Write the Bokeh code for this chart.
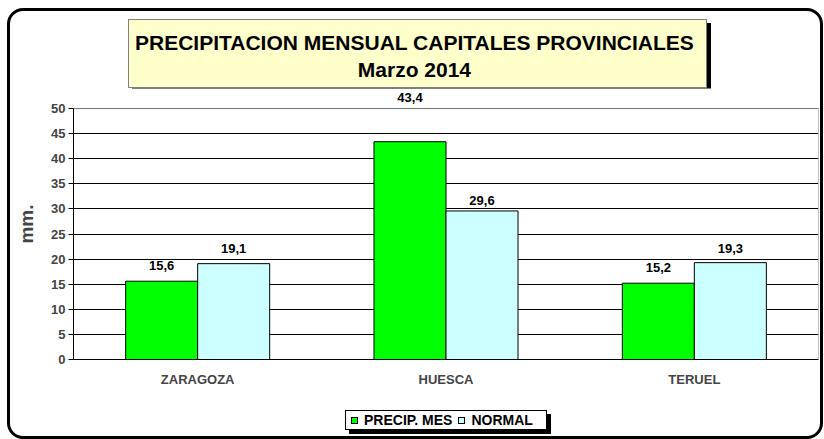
from bokeh.plotting import figure
from bokeh.models import (ColumnDataSource, FactorRange, LabelSet, Range1d, FixedTicker,
                          Div, Column)
from bokeh.transform import dodge
from bokeh.core.properties import value
from bokeh.embed import file_html
from bokeh.resources import INLINE

cities = ["ZARAGOZA", "HUESCA", "TERUEL"]
precip_mes = [15.6, 43.4, 15.2]
normal = [19.1, 29.6, 19.3]
series_names = ["PRECIP. MES", "NORMAL"]
series_colors = ["#00FF00", "#CCFFFF"]
title_lines = ["PRECIPITACION MENSUAL CAPITALES PROVINCIALES", "Marzo 2014"]
y_label = "mm."
y_ticks = [0, 5, 10, 15, 20, 25, 30, 35, 40, 45, 50]
y_max = 50

FONT = "Liberation Sans"

def fmt(v):
    return f"{v:.1f}".replace(".", ",")

# label lift above bar tops in px (styling only, mirrors the reference placement)
lift_precip = [11, 40, 11]
lift_normal = [11, 6, 10]

src = ColumnDataSource(dict(
    city=cities, precip=precip_mes, normal=normal,
    precip_lbl=[fmt(v) for v in precip_mes],
    normal_lbl=[fmt(v) for v in normal],
    lift_p=lift_precip, lift_n=lift_normal,
))

# the frame reaches a little above the 50 line so the top value label can sit there
p = figure(x_range=FactorRange(factors=cities, range_padding=0),
           y_range=Range1d(0, 54), width=810, height=304,
           output_backend="svg", toolbar_location=None,
           min_border_left=63, min_border_right=2, min_border_top=0,
           min_border_bottom=33)
p.title.visible = False

p.outline_line_color = None
p.xgrid.grid_line_color = None
p.ygrid.grid_line_color = "#000000"
p.ygrid.grid_line_width = 1
p.ygrid.ticker = FixedTicker(ticks=y_ticks)

# plot-area border (grey) spanning all categories from 0 to the top tick
p.quad(left=0, right=len(cities), bottom=0, top=y_max, fill_color=None,
       line_color="#808080", line_width=1)

BW = 0.29
g = p.vbar(x=dodge("city", -BW / 2, range=p.x_range), top="precip", width=BW,
           source=src, fill_color=series_colors[0], line_color="black", line_width=1)
c = p.vbar(x=dodge("city", BW / 2, range=p.x_range), top="normal", width=BW,
           source=src, fill_color=series_colors[1], line_color="black", line_width=1)

for xoff, col, lbl, lift in [(-BW / 2, "precip", "precip_lbl", "lift_p"),
                             (BW / 2, "normal", "normal_lbl", "lift_n")]:
    ls = LabelSet(x=dodge("city", xoff, range=p.x_range), y=col, text=lbl, source=src,
                  y_offset=lift, text_align="center", text_baseline="bottom",
                  text_font=value(FONT), text_font_style="bold",
                  text_font_size="13px", text_color="black")
    p.add_layout(ls)

# axes
p.yaxis.ticker = FixedTicker(ticks=y_ticks)
p.yaxis.bounds = (0, y_max)
p.yaxis.major_label_text_font = FONT
p.yaxis.major_label_text_font_style = "bold"
p.yaxis.major_label_text_font_size = "13px"
p.yaxis.major_tick_out = 5
p.yaxis.major_tick_in = 0
p.yaxis.minor_tick_line_color = None
p.yaxis.major_label_standoff = 3
p.yaxis.axis_line_color = "black"
p.yaxis.major_tick_line_color = "black"
p.yaxis.axis_label = y_label
p.yaxis.axis_label_text_font = FONT
p.yaxis.axis_label_text_font_style = "bold"
p.yaxis.axis_label_text_font_size = "19px"
p.yaxis.axis_label_standoff = 11

p.xaxis.major_label_text_font = FONT
p.xaxis.major_label_text_font_style = "bold"
p.xaxis.major_label_text_font_size = "13px"
p.xaxis.major_tick_line_color = None
p.xaxis.major_label_standoff = 6
p.xaxis.axis_line_color = "black"

TXT = "font-family:'Liberation Sans',Arial,sans-serif;font-weight:bold;color:#000;"

title_html = (
    f'<div style="{TXT}font-size:21px;line-height:27px;text-align:center;'
    'padding-top:9px;padding-left:6px;white-space:nowrap;">'
    + "<br>".join(title_lines) + "</div>"
)
title_div = Div(text=title_html, width=579, height=69, margin=(8, 0, 0, 118),
                styles={"background-color": "#FFFFCC", "border": "1px solid #808080",
                        "box-shadow": "4px 4px 0px 0px #000000",
                        "box-sizing": "border-box"})

def swatch(color):
    return (f'<span style="display:inline-block;width:7px;height:7px;'
            f'border:1px solid #000;background:{color};box-sizing:border-box;'
            f'margin:0 6px 0 0;"></span>')

legend_html = (
    f'<div style="{TXT}font-size:14px;line-height:18px;display:flex;'
    'align-items:center;padding-left:5px;white-space:nowrap;">'
    + swatch(series_colors[0]) + f'<span style="margin-right:6px">{series_names[0]}</span>'
    + swatch(series_colors[1]) + f'<span>{series_names[1]}</span>'
    + "</div>"
)
legend_div = Div(text=legend_html, width=202, height=20, margin=(18, 0, 6, 335),
                 styles={"background-color": "white", "border": "1px solid #000",
                         "box-shadow": "4px 4px 0px 0px #000000",
                         "box-sizing": "border-box"})

layout = Column(children=[title_div, p, legend_div], spacing=0,
                styles={"border": "3px solid black", "border-radius": "16px",
                        "margin-left": "7px", "margin-top": "8px",
                        "background-color": "white"})

open("out.html", "w").write(file_html(layout, INLINE))
